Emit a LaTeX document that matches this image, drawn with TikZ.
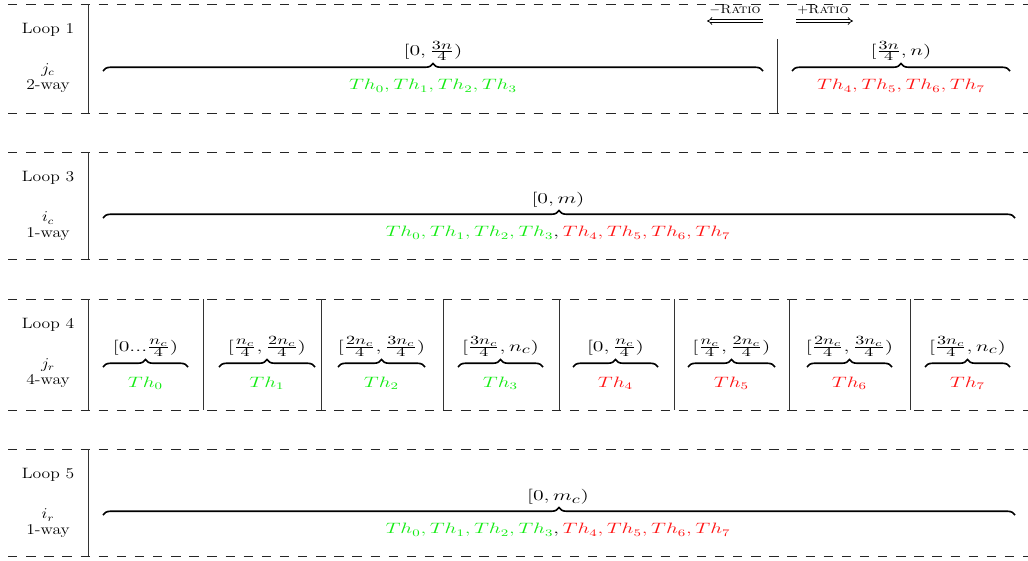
\documentclass[tikz,border=0pt]{standalone}
\usepackage{amsmath}
\usetikzlibrary{decorations.pathreplacing,arrows.meta}
\DeclareMathSizes{14.4}{12}{10}{7}
\definecolor{thgreen}{RGB}{20,235,20}
\definecolor{thred}{RGB}{255,20,20}
\tikzset{
  lbl/.style={font=\large, xscale=1.17},
  sep/.style={dash pattern=on 7.5pt off 7pt, line width=.6pt, black!85},
  bar/.style={line width=.7pt, black!80},
  brc/.style={decorate, decoration={brace, amplitude=6pt}, line width=1.3pt},
  rng/.style={font=\Large, xscale=1.45, anchor=south, inner sep=1pt},
  thx/.style={font=\large, xscale=1.4},
  thg/.style={thx, text=thgreen},
  thr/.style={thx, text=thred},
  rat/.style={font=\normalsize, xscale=1.12, anchor=south, inner sep=1pt},
  dbl/.style={double, double distance=1.5pt, line width=.6pt, -{Implies}},
}
\begin{document}
\begin{tikzpicture}[x=.8pt, y=-.8pt]
  \useasboundingbox (0,0) rectangle (1028,560);
  % bands: top/bottom/loop/index/way
  \foreach \t/\b/\l/\v/\w in {4/113/1/j_c/2, 152/259/3/i_c/1, 299/410/4/j_r/4, 449/556/5/i_r/1}{
    \draw[sep] (8,\t) -- (1028,\t);
    \draw[sep] (8,\b) -- (1028,\b);
    \draw[bar] (88,\t) -- (88,\b);
    \node[lbl] (loop\l) at (48,\t+26) {Loop \l};
    \node[lbl] (var\l) at (48,\t+66) {$\v$};
    \node[lbl] (way\l) at (48,\t+82) {\w-way};
  }

  % Loop 1
  \coordinate (b1l) at (103,71); \coordinate (b1m) at (763,71);
  \coordinate (b1n) at (792,71); \coordinate (b1r) at (1010,71);
  \draw[brc] (b1l) -- (b1m);
  \draw[brc] (b1n) -- (b1r);
  \draw[bar] (777,39) -- (777,113);
  \node[rng] (rng1a) at (433,62) {$[0,\frac{3n}{4})$};
  \node[thg] (th1a) at (433,86) {$Th_0,Th_1,Th_2,Th_3$};
  \node[rng] (rng1b) at (901,62) {$[\frac{3n}{4},n)$};
  \node[thr] (th1b) at (901,86) {$Th_4,Th_5,Th_6,Th_7$};
  % ratio arrows
  \coordinate (rml) at (707,21); \coordinate (rmr) at (763,21);
  \coordinate (rpl) at (796,21); \coordinate (rpr) at (853,21);
  \draw[dbl] (rmr) -- (rml);
  \draw[dbl] (rpl) -- (rpr);
  \node[rat] (ratm) at (735,16) {$-$\textsc{Ratio}};
  \node[rat] (ratp) at (823,16) {$+$\textsc{Ratio}};

  % Loop 3
  \coordinate (b3l) at (103,218); \coordinate (b3r) at (1015,218);
  \draw[brc] (b3l) -- (b3r);
  \node[rng] (rng3) at (558,209) {$[0,m)$};
  \node[thx] (th3) at (558,233)
    {$\textcolor{thgreen}{Th_0,Th_1,Th_2,Th_3},\textcolor{thred}{Th_4,Th_5,Th_6,Th_7}$};

  % Loop 4
  \foreach \x in {203,321,443,559,674,789,910}
    \draw[bar] (\x,299) -- (\x,410);
  \foreach \a/\c/\r/\i/\s [count=\k] in {
      103/188/{[0...\frac{n_c}{4})}/0/thg,
      219/315/{[\frac{n_c}{4},\frac{2n_c}{4})}/1/thg,
      338/425/{[\frac{2n_c}{4},\frac{3n_c}{4})}/2/thg,
      458/543/{[\frac{3n_c}{4},n_c)}/3/thg,
      573/658/{[0,\frac{n_c}{4})}/4/thr,
      688/775/{[\frac{n_c}{4},\frac{2n_c}{4})}/5/thr,
      807/892/{[\frac{2n_c}{4},\frac{3n_c}{4})}/6/thr,
      925/1010/{[\frac{3n_c}{4},n_c)}/7/thr}{
    \coordinate (s\k l) at (\a,367); \coordinate (s\k r) at (\c,367);
    \draw[brc] (s\k l) -- (s\k r);
    \node[rng] (rng4\k) at ({(\a+\c)/2},358) {$\r$};
    \node[\s] (th4\k) at ({(\a+\c)/2},383) {$Th_\i$};
  }

  % Loop 5
  \coordinate (b5l) at (103,515); \coordinate (b5r) at (1015,515);
  \draw[brc] (b5l) -- (b5r);
  \node[rng] (rng5) at (558,506) {$[0,m_c)$};
  \node[thx] (th5) at (558,530)
    {$\textcolor{thgreen}{Th_0,Th_1,Th_2,Th_3},\textcolor{thred}{Th_4,Th_5,Th_6,Th_7}$};
\end{tikzpicture}
\end{document}
